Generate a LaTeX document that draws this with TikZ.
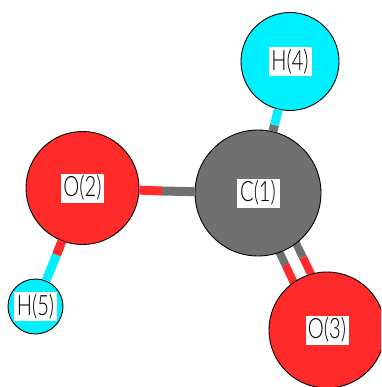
\documentclass[tikz,border=0pt]{standalone}
\usepackage{fontspec}
\setmainfont{Lato Light}
\definecolor{atomred}{HTML}{FF2A2A}
\definecolor{atomcyan}{HTML}{00F0FF}
\definecolor{atomgrey}{HTML}{707070}
\tikzset{
  atom/.style={circle,draw=black,line width=0.9pt,inner sep=0pt,minimum size=#1},
  redatom/.style={atom=#1,fill=atomred},
  cyanatom/.style={atom=#1,fill=atomcyan},
  greyatom/.style={atom=#1,fill=atomgrey},
  atomlabel/.style={fill=white,inner sep=0pt,minimum width=43pt,minimum height=29pt,font=\fontsize{28}{28}\selectfont},
  bond/.style={line width=9pt,line cap=butt},
  thinbond/.style={line width=8pt,line cap=butt}
}
\newcommand{\atomtext}[1]{\scalebox{0.72}[1]{#1}}
\begin{document}
\begin{tikzpicture}[x=1pt,y=-1pt]
\useasboundingbox (0,0) rectangle (381,387);
\fill[white] (0,0) rectangle (381,387);
\begin{scope}
\clip (0,0) rectangle (381,387);
% double bond, behind the atoms
\coordinate (La) at (275,243);
\coordinate (Lm) at (285.5,265);
\coordinate (Lb) at (294,283);
\coordinate (Ra) at (293,237);
\coordinate (Rm) at (303,257.5);
\coordinate (Rb) at (312,276);
\draw[thinbond,atomgrey] (La) -- (Lm);
\draw[thinbond,atomred] (Lm) -- (Lb);
\draw[thinbond,atomgrey] (Ra) -- (Rm);
\draw[thinbond,atomred] (Rm) -- (Rb);
% atoms
\node[greyatom=126pt] (C1) at (258,193) {};
\node[redatom=113pt] (O2) at (82.5,188) {};
\node[redatom=116pt] (O3) at (327,330) {};
\node[cyanatom=98pt] (H4) at (290,61.5) {};
\node[cyanatom=55pt] (H5) at (35.5,306.5) {};
% single bonds
\coordinate (mCH) at (274.5,125);
\draw[bond,atomgrey] (C1) -- (mCH);
\draw[bond,atomcyan] (mCH) -- (H4);
\coordinate (mCO) at (162,191);
\draw[bond,atomgrey] (C1) -- (mCO);
\draw[bond,atomred] (mCO) -- (O2);
\coordinate (mOH) at (56.5,255);
\draw[bond,atomred] (O2) -- (mOH);
\draw[bond,atomcyan] (mOH) -- (H5);
\end{scope}
% labels
\node[atomlabel] (lC) at (C1) {\atomtext{C(1)}};
\node[atomlabel] (lO2) at (O2) {\atomtext{O(2)}};
\node[atomlabel] (lO3) at (O3) {\atomtext{O(3)}};
\node[atomlabel] (lH4) at (H4) {\atomtext{H(4)}};
\node[atomlabel] (lH5) at (H5) {\atomtext{H(5)}};
\end{tikzpicture}
\end{document}
